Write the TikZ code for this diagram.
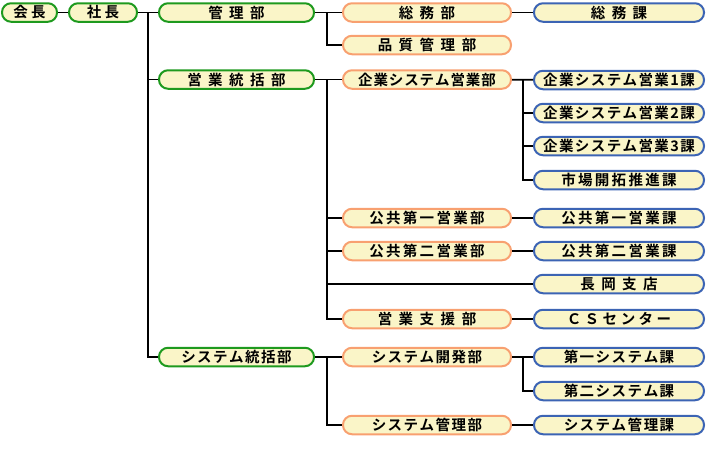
\documentclass[tikz,border=0pt]{standalone}
\usepackage{fontspec}
\setmainfont{Noto Sans CJK JP}[BoldFont={* Bold}]
\usetikzlibrary{positioning}

\definecolor{boxfill}{HTML}{FAF5C8}
\definecolor{topgreen}{HTML}{1E9A1E}
\definecolor{deptorange}{HTML}{F8A070}
\definecolor{secblue}{HTML}{3C64B4}

% spaced-out box labels: \kspc{gap in pt}{text}
\makeatletter
\newcommand\kspc[2]{\def\ksp@gap{#1}\let\ksp@sep\relax
  \@tfor\ksp@ch:=#2\do{\ksp@sep\ksp@ch\def\ksp@sep{\hspace{\ksp@gap pt}}}}
\makeatother

\begin{document}
\begin{tikzpicture}[
  x=1pt,y=-1pt,
  font=\fontsize{14.5}{16}\selectfont\bfseries,
  unit/.style={draw,fill=boxfill,rounded corners=9pt,line width=2pt,minimum height=18.5pt,inner sep=0pt},
  head/.style={unit,draw=topgreen},
  top/.style={head,minimum width=155pt},
  dept/.style={unit,draw=deptorange,minimum width=168pt},
  sect/.style={unit,draw=secblue,minimum width=170pt},
  link/.style={line width=1.9pt}
]
\useasboundingbox (0,0) rectangle (710,450);

% executives and divisions
\node[head,minimum width=55pt] (kaicho) at (29.5,12.5) {\kspc{3.5}{会長}};
\node[head,minimum width=68pt] (shacho) at (103,12.5) {\kspc{3.5}{社長}};
\node[top] (kanri) at (236.5,12.5) {\kspc{6.5}{管理部}};
\node[top] (eigyo) at (236.5,79.5) {\kspc{6.5}{営業統括部}};
\node[top] (system) at (236.5,357) {\kspc{1.5}{システム統括部}};

% departments
\node[dept] (somubu) at (427,12.5) {\kspc{6.5}{総務部}};
\node[dept] (hinshitsu) at (427,45) {\kspc{6.5}{品質管理部}};
\node[dept] (kigyobu) at (427,79.5) {\kspc{0.9}{企業システム営業部}};
\node[dept] (koukyo1bu) at (427,218) {\kspc{2.3}{公共第一営業部}};
\node[dept] (koukyo2bu) at (427,251) {\kspc{2.3}{公共第二営業部}};
\node[dept] (shien) at (427,319) {\kspc{6.5}{営業支援部}};
\node[dept] (kaihatsu) at (427,357) {\kspc{1.5}{システム開発部}};
\node[dept] (syskanribu) at (427,425) {\kspc{1.5}{システム管理部}};

% sections
\node[sect] (somuka) at (619,12.5) {\kspc{6.5}{総務課}};
\node[sect] (kigyo1) at (619,80) {\kspc{1.4}{企業システム営業1課}};
\node[sect] (kigyo2) at (619,113) {\kspc{1.4}{企業システム営業2課}};
\node[sect] (kigyo3) at (619,146) {\kspc{1.4}{企業システム営業3課}};
\node[sect] (shijo) at (619,180) {\kspc{2.3}{市場開拓推進課}};
\node[sect] (koukyo1ka) at (619,218) {\kspc{2.3}{公共第一営業課}};
\node[sect] (koukyo2ka) at (619,251) {\kspc{2.3}{公共第二営業課}};
\node[sect] (nagaoka) at (619,284) {\kspc{6.5}{長岡支店}};
\node[sect] (cs) at (619,319) {\kspc{3.5}{ＣＳセンター}};
\node[sect] (dai1) at (619,357) {\kspc{1.5}{第一システム課}};
\node[sect] (dai2) at (619,391) {\kspc{1.5}{第二システム課}};
\node[sect] (syskanrika) at (619,425) {\kspc{1.5}{システム管理課}};

% bus corners
\coordinate (bus1) at (148,12.5);
\coordinate (bus2) at (327,12.5);
\coordinate (bus3) at (327,79.5);
\coordinate (bus4) at (523,80);
\coordinate (bus5) at (327,357);
\coordinate (bus6) at (523,357);

\draw[link] (kaicho) -- (shacho);
\draw[link] (shacho) -- (kanri);
\draw[link] (bus1) |- (eigyo);
\draw[link] (bus1) |- (system);

\draw[link] (kanri) -- (somubu);
\draw[link] (bus2) |- (hinshitsu);
\draw[link] (somubu) -- (somuka);

\draw[link] (eigyo) -- (kigyobu);
\draw[link] (bus3) |- (koukyo1bu);
\draw[link] (bus3) |- (koukyo2bu);
\draw[link] (bus3) |- (nagaoka);
\draw[link] (bus3) |- (shien);
\draw[link] (kigyobu) -- (kigyo1);
\draw[link] (bus4) |- (kigyo2);
\draw[link] (bus4) |- (kigyo3);
\draw[link] (bus4) |- (shijo);
\draw[link] (koukyo1bu) -- (koukyo1ka);
\draw[link] (koukyo2bu) -- (koukyo2ka);
\draw[link] (shien) -- (cs);

\draw[link] (system) -- (kaihatsu);
\draw[link] (bus5) |- (syskanribu);
\draw[link] (kaihatsu) -- (dai1);
\draw[link] (bus6) |- (dai2);
\draw[link] (syskanribu) -- (syskanrika);
\end{tikzpicture}
\end{document}
